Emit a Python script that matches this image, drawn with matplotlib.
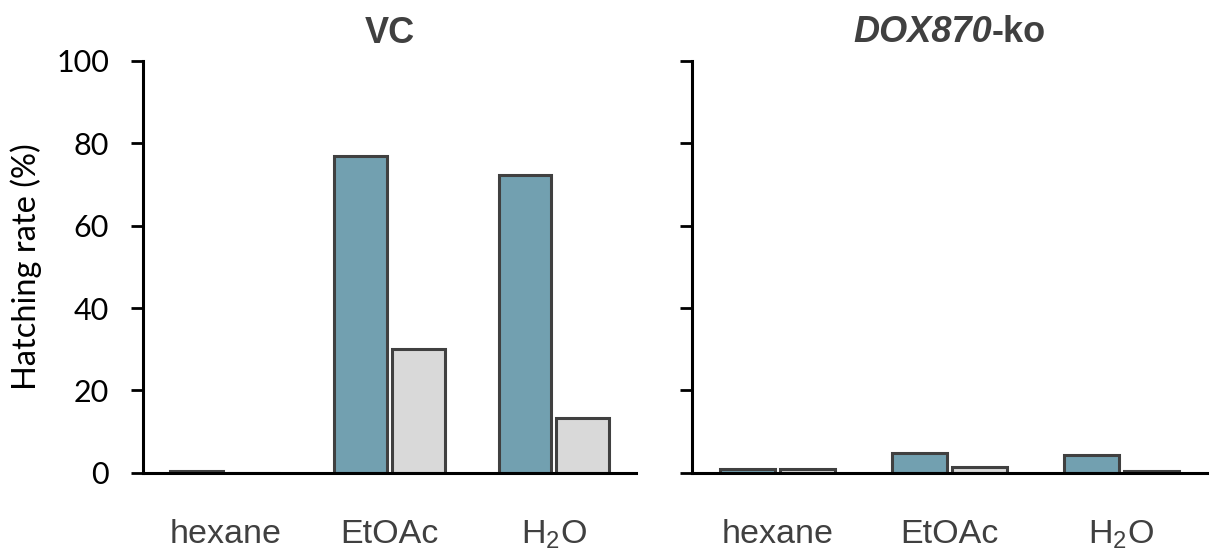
import matplotlib
matplotlib.use("Agg")
import matplotlib.pyplot as plt
import numpy as np
from matplotlib.offsetbox import TextArea, HPacker, AnchoredOffsetbox

# Data
solvents = ["hexane", "EtOAc", r"$\mathregular{H_2O}$"]
vc_first = [0.5, 76.9, 72.4]
vc_second = [0.0, 30.1, 13.4]
ko_first = [0.8, 4.9, 4.3]
ko_second = [1.0, 1.4, 0.5]
y_ticks = [0, 20, 40, 60, 80, 100]

BLUE = "#72A0B0"
GREY = "#D9D9D9"
EDGE = "#404040"
TXT = "#404040"
SANS = "Liberation Sans"
NUM = "Lato"
TITLE_SIZE = 26

fig = plt.figure(figsize=(12.14, 5.58), dpi=100)
ax1 = fig.add_axes([0.1178, 0.1529, 0.4061, 0.7378])
ax2 = fig.add_axes([0.5700, 0.1529, 0.4242, 0.7378])

x = np.arange(len(solvents))
w = 0.32
off = 0.175

for ax, a, b in [(ax1, vc_first, vc_second), (ax2, ko_first, ko_second)]:
    ax.bar(x - off, a, width=w, color=BLUE, edgecolor=EDGE, linewidth=2.2, zorder=2)
    ax.bar(x + off, b, width=w, color=GREY, edgecolor=EDGE, linewidth=2.2, zorder=2)
    ax.set_xlim(-0.5, 2.5)
    ax.set_ylim(0, 100)
    ax.set_yticks(y_ticks)
    for s in ("top", "right"):
        ax.spines[s].set_visible(False)
    for s in ("left", "bottom"):
        ax.spines[s].set_linewidth(2.2)
        ax.spines[s].set_color("black")
        ax.spines[s].set_zorder(3)
    ax.tick_params(axis="y", direction="out", length=8.5, width=2.0, color="black", pad=16)
    ax.tick_params(axis="x", length=0, pad=33)
    ax.set_xticks(x)
    ax.set_xticklabels(solvents, fontsize=24.5, color=TXT, fontfamily=SANS)
    ax.patch.set_visible(False)

for lab in ax1.get_yticklabels():
    lab.set_fontfamily(NUM)
    lab.set_fontsize(22)
    lab.set_color("black")
ax2.set_yticklabels([])

ax1.set_ylabel("Hatching rate (%)", fontsize=23.5, fontfamily=NUM, labelpad=10)

# Panel titles
ax1.set_title("VC", fontsize=TITLE_SIZE, fontweight="bold", color=TXT, fontfamily=SANS, pad=13)

t_it = TextArea("DOX870", textprops=dict(fontsize=TITLE_SIZE, fontweight="bold",
                                         fontstyle="italic", color=TXT, family=SANS))
t_rm = TextArea("-ko", textprops=dict(fontsize=TITLE_SIZE, fontweight="bold",
                                      color=TXT, family=SANS))
box = HPacker(children=[t_it, t_rm], align="baseline", pad=0, sep=0)
anch = AnchoredOffsetbox(loc="lower center", child=box, frameon=False,
                         bbox_to_anchor=(0.5, 1.0 + 11 / (0.7378 * 558)),
                         bbox_transform=ax2.transAxes, borderpad=0.0, pad=0.0)
ax2.add_artist(anch)

fig.savefig("out.png", dpi=100)
